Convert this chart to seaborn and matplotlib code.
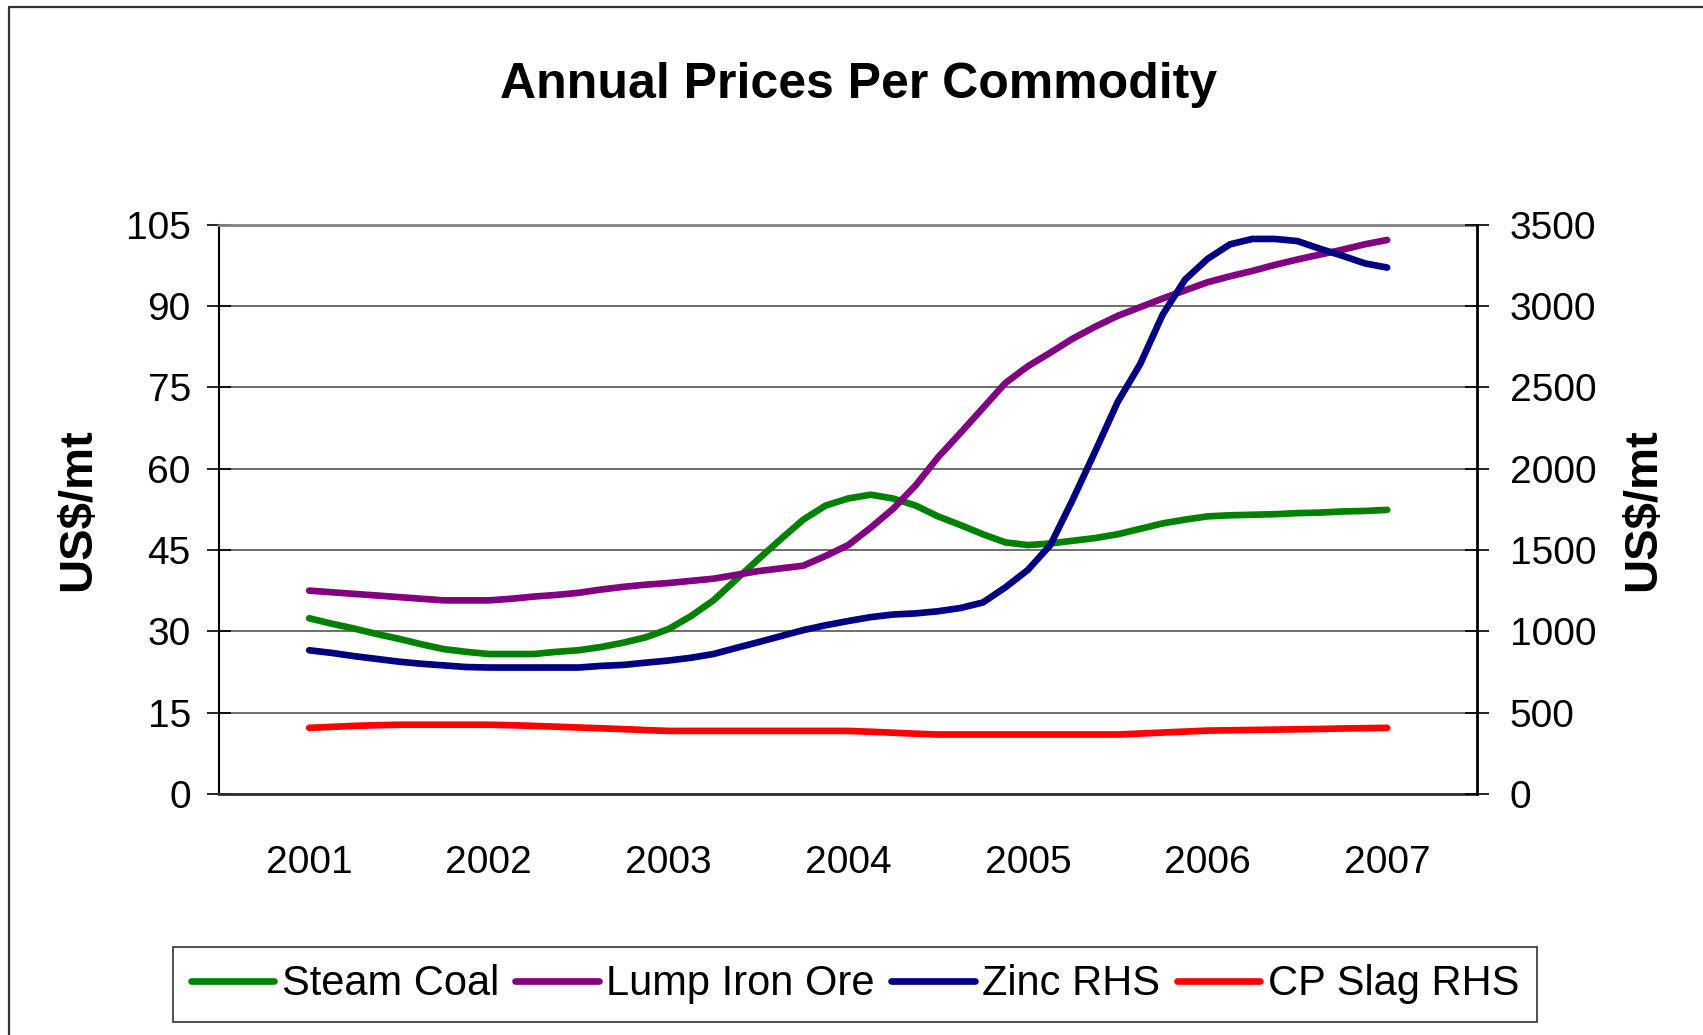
import matplotlib
matplotlib.use("Agg")
import matplotlib.pyplot as plt
import seaborn as sns
import numpy as np
import pandas as pd
from matplotlib.lines import Line2D

# eighth-of-a-year readings, 2001 .. 2007
period = np.linspace(2001, 2007, 49)
years = [2001, 2002, 2003, 2004, 2005, 2006, 2007]

steam_coal = [32.4, 31.4, 30.5, 29.5, 28.6, 27.6, 26.7, 26.2,
              25.8, 25.8, 25.8, 26.2, 26.5, 27.1, 27.9, 28.9,
              30.4, 32.8, 35.7, 39.5, 43.3, 47.0, 50.6, 53.2,
              54.5, 55.2, 54.5, 53.2, 51.2, 49.6, 47.9, 46.4,
              45.9, 46.2, 46.7, 47.2, 47.9, 48.9, 49.9, 50.6,
              51.2, 51.4, 51.5, 51.6, 51.8, 51.9, 52.1, 52.2,
              52.4]
lump_iron_ore = [37.5, 37.2, 36.9, 36.6, 36.3, 36.0, 35.7, 35.7,
                 35.7, 36.0, 36.4, 36.7, 37.1, 37.7, 38.2, 38.6,
                 38.9, 39.3, 39.7, 40.4, 41.1, 41.6, 42.1, 43.9,
                 45.9, 49.1, 52.6, 56.9, 62.1, 66.6, 71.2, 75.8,
                 78.9, 81.4, 84.0, 86.2, 88.2, 89.8, 91.4, 92.9,
                 94.4, 95.5, 96.5, 97.6, 98.6, 99.5, 100.4, 101.4,
                 102.2]
zinc = [883, 867, 847, 830, 813, 800, 790, 780,
        777, 777, 777, 777, 777, 787, 793, 807,
        820, 837, 860, 897, 933, 970, 1007, 1037,
        1063, 1087, 1103, 1110, 1123, 1143, 1177, 1270,
        1377, 1530, 1810, 2107, 2410, 2643, 2947, 3163,
        3290, 3380, 3413, 3413, 3400, 3353, 3310, 3263,
        3237]
cp_slag = [406, 412, 418, 422, 425, 425, 425, 425,
           425, 422, 418, 413, 408, 403, 398, 392,
           387, 387, 387, 387, 387, 387, 387, 387,
           387, 382, 376, 370, 365, 365, 365, 365,
           365, 365, 365, 365, 365, 371, 377, 383,
           389, 391, 393, 395, 397, 399, 402, 404,
           406]

left = pd.DataFrame({"period": period, "Steam Coal": steam_coal, "Lump Iron Ore": lump_iron_ore})
right = pd.DataFrame({"period": period, "Zinc RHS": zinc, "CP Slag RHS": cp_slag})

colors = {"Steam Coal": "#008000", "Lump Iron Ore": "#800080",
          "Zinc RHS": "#000080", "CP Slag RHS": "#FF0000"}

sns.set_style("white")
plt.rcParams["font.family"] = ["Liberation Sans", "DejaVu Sans"]
plt.rcParams["text.color"] = "black"
plt.rcParams["axes.labelcolor"] = "black"
plt.rcParams["xtick.color"] = "black"
plt.rcParams["ytick.color"] = "black"

fig = plt.figure(figsize=(17.03, 10.35), dpi=100)
ax = fig.add_axes([0.1288, 0.2330, 0.7385, 0.5498])
ax2 = ax.twinx()

lw = 4.8
for name in ["Steam Coal", "Lump Iron Ore"]:
    sns.lineplot(data=left, x="period", y=name, ax=ax, color=colors[name],
                 linewidth=lw, label=name, legend=False,
                 solid_capstyle="round", solid_joinstyle="round")
for name in ["Zinc RHS", "CP Slag RHS"]:
    sns.lineplot(data=right, x="period", y=name, ax=ax2, color=colors[name],
                 linewidth=lw, label=name, legend=False,
                 solid_capstyle="round", solid_joinstyle="round")

ax.set_xlim(2000.5, 2007.5)
ax.set_ylim(0, 105)
ax2.set_ylim(0, 3500)
ax.set_yticks(range(0, 106, 15))
ax2.set_yticks(range(0, 3501, 500))
ax.set_xticks(years)
ax.set_xticklabels([str(y) for y in years])
ax.set_xticks(np.arange(2000.5, 2008, 1), minor=True)

ax.yaxis.grid(True, color="#555555", linewidth=1.2)
ax.set_axisbelow(True)

tick_fs = 28
ax.tick_params(axis="x", which="major", length=0, pad=37, labelsize=tick_fs)
ax.tick_params(axis="x", which="minor", direction="out", length=9.5, width=1.3, color="#404040")
ax.tick_params(axis="y", direction="inout", length=17, width=1.2, pad=12, labelsize=tick_fs)
ax2.tick_params(axis="y", direction="inout", length=17, width=1.2, pad=15, labelsize=tick_fs)

ax.set_xlabel("")
ax.set_ylabel("US$/mt", fontsize=34, fontweight="bold")
ax2.set_ylabel("US$/mt", fontsize=34, fontweight="bold")
ax.yaxis.set_label_coords(-0.0946, 0.5)
ax2.yaxis.set_label_coords(1.1145, 0.5)

ax.spines["left"].set_color("black")
ax.spines["left"].set_linewidth(1.5)
ax.spines["bottom"].set_color("#303030")
ax.spines["bottom"].set_linewidth(2)
ax.spines["top"].set_color("#808080")
ax.spines["top"].set_linewidth(2)
ax.spines["right"].set_visible(False)
for s in ["left", "top", "bottom"]:
    ax2.spines[s].set_visible(False)
ax2.spines["right"].set_color("black")
ax2.spines["right"].set_linewidth(2)

fig.text(0.504, 0.9056, "Annual Prices Per Commodity", ha="center", va="baseline",
         fontsize=36, fontweight="bold")

h1, l1 = ax.get_legend_handles_labels()
h2, l2 = ax2.get_legend_handles_labels()
leg = fig.legend(h1 + h2, l1 + l2, loc="center", bbox_to_anchor=(0.502, 0.049),
                 ncol=4, fontsize=30, frameon=True, fancybox=False,
                 handlelength=2.0, handletextpad=0.18, columnspacing=0.4,
                 borderpad=0.42)
leg.get_frame().set_edgecolor("black")
leg.get_frame().set_linewidth(1.2)

# outer chart border (cropped on the right and bottom)
bx = 9 / 1703
by = 1 - 6.5 / 1035
fig.add_artist(Line2D([bx, bx, 1.0], [0.0, by, by], transform=fig.transFigure,
                      color="#333333", linewidth=1.6))

fig.savefig("out.png", dpi=100)
